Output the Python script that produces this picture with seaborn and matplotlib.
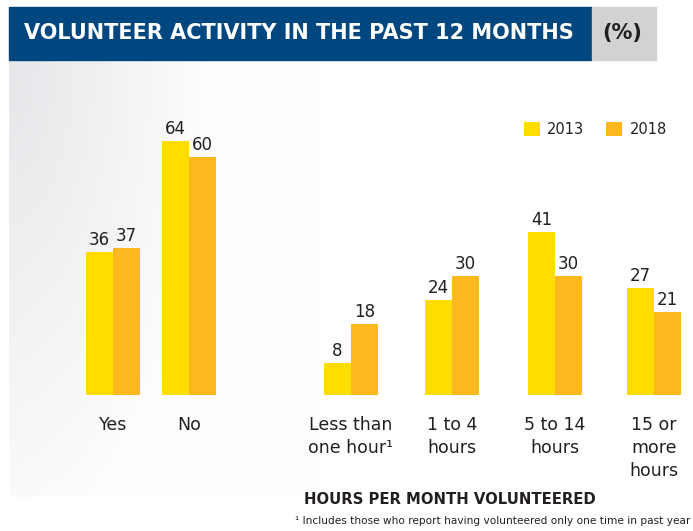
import numpy as np
import pandas as pd
import matplotlib.pyplot as plt
import seaborn as sns
from matplotlib.patches import Rectangle

# data
groups = ["Yes", "No", "Less than\none hour\u00b9", "1 to 4\nhours", "5 to 14\nhours", "15 or\nmore\nhours"]
years = ["2013", "2018"]
pct_2013 = [36, 64, 8, 24, 41, 27]
pct_2018 = [37, 60, 18, 30, 30, 21]

# layout: group centres in pixels across the figure
group_pos = [113, 189, 351, 452, 555, 654]

df = pd.DataFrame({
    "pos": group_pos * 2,
    "year": [years[0]] * len(groups) + [years[1]] * len(groups),
    "pct": pct_2013 + pct_2018,
})

colores = ["#FFDD00", "#FDB71F"]
texto = "#231F20"

sns.set_style("white")
plt.rcParams['font.family'] = ['DejaVu Sans']

W, H = 693, 531
fig = plt.figure(figsize=(W / 100, H / 100), dpi=100)

# fondo con degradado y barra de titulo
bg = fig.add_axes([0, 0, 1, 1])
bg.set_xlim(0, W)
bg.set_ylim(H, 0)
bg.axis("off")
xx, yy = np.meshgrid(np.linspace(0, 1, 300), np.linspace(0, 1, 300))
fade = np.clip(1 - np.sqrt((xx * 1.5) ** 2 + (yy * 0.9) ** 2), 0, 1) ** 0.9
img = np.ones((300, 300, 3))
base = np.array([0.90, 0.905, 0.915])
for k in range(3):
    img[:, :, k] = 1 - (1 - base[k]) * (0.07 * (1 - xx) ** 2 + 0.93 * fade)
bg.imshow(img, extent=(9, 320, 497, 60), aspect="auto", zorder=0)

bg.add_patch(Rectangle((9, 7), 583, 53, color="#00467F", zorder=1))
bg.add_patch(Rectangle((592, 7), 64, 53, color="#D1D2D4", zorder=1))
bg.text(24, 33, "VOLUNTEER ACTIVITY IN THE PAST 12 MONTHS", color="white",
        fontsize=15, fontweight="bold", va="center", ha="left", zorder=2)
bg.text(622, 33, "(%)", color=texto, fontsize=15, fontweight="bold",
        va="center", ha="center", zorder=2)
bg.text(450, 500, "HOURS PER MONTH VOLUNTEERED", color=texto, fontsize=10.7,
        fontweight="bold", va="center", ha="center")
bg.text(690, 521, "\u00b9 Includes those who report having volunteered only one time in past year",
        color=texto, fontsize=7.6, va="center", ha="right")

# grafico de barras
base_px, top_px, px_per_unit = 395, 60, 3.97
ax = fig.add_axes([0, (H - base_px) / H, 1, (base_px - top_px) / H])
ax.patch.set_alpha(0)
sns.barplot(data=df, x="pos", y="pct", hue="year", native_scale=True,
            width=0.72, palette=colores, saturation=1, errorbar=None,
            linewidth=0, ax=ax)
ax.set_xlim(0, W)
ax.set_ylim(0, (base_px - top_px) / px_per_unit)

for cont in ax.containers:
    ax.bar_label(cont, fmt="%g", padding=2, fontsize=12, color=texto)

ax.set_xticks(group_pos, labels=groups)
ax.tick_params(axis="x", length=0, pad=15, labelsize=12.5, labelcolor=texto)
for t in ax.get_xticklabels():
    t.set_linespacing(1.35)
ax.set_yticks([])
ax.set_xlabel("")
ax.set_ylabel("")
sns.despine(ax=ax, left=True, bottom=True)

sns.move_legend(ax, loc="center left", bbox_to_anchor=(524 / W, (base_px - 129) / (base_px - top_px)),
                ncol=2, frameon=False, title=None, fontsize=10.5,
                handlelength=1.1, handleheight=1.1, handletextpad=0.5,
                columnspacing=1.5, borderaxespad=0, borderpad=0)
for t in ax.get_legend().get_texts():
    t.set_color(texto)

fig.savefig("out.png", dpi=100)
